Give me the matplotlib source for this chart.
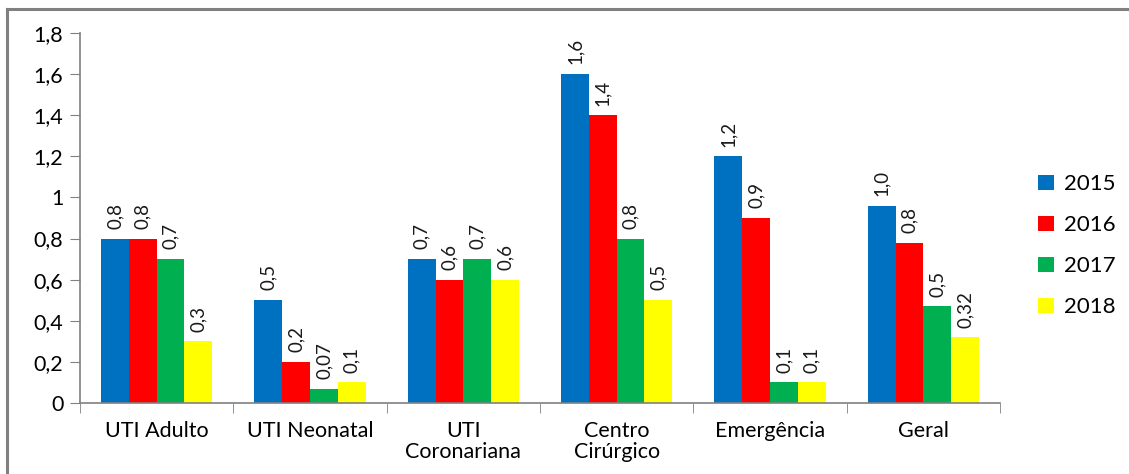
import numpy as np
import matplotlib
matplotlib.use("Agg")
import matplotlib.pyplot as plt
from matplotlib.lines import Line2D

categories = ["UTI Adulto", "UTI Neonatal", "UTI\nCoronariana", "Centro\nCirúrgico",
              "Emergência", "Geral"]
years = ["2015", "2016", "2017", "2018"]
v2015 = [0.8, 0.5, 0.7, 1.6, 1.2, 0.96]
v2016 = [0.8, 0.2, 0.6, 1.4, 0.9, 0.78]
v2017 = [0.7, 0.07, 0.7, 0.8, 0.1, 0.47]
v2018 = [0.3, 0.1, 0.6, 0.5, 0.1, 0.32]
lab2015 = ["0,8", "0,5", "0,7", "1,6", "1,2", "1,0"]
lab2016 = ["0,8", "0,2", "0,6", "1,4", "0,9", "0,8"]
lab2017 = ["0,7", "0,07", "0,7", "0,8", "0,1", "0,5"]
lab2018 = ["0,3", "0,1", "0,6", "0,5", "0,1", "0,32"]
yticks = [0, 0.2, 0.4, 0.6, 0.8, 1.0, 1.2, 1.4, 1.6, 1.8]
ytick_labels = ["0", "0,2", "0,4", "0,6", "0,8", "1", "1,2", "1,4", "1,6", "1,8"]

colors = ["#0070C0", "#FF0000", "#00B050", "#FFFF00"]
series = [v2015, v2016, v2017, v2018]
labels = [lab2015, lab2016, lab2017, lab2018]

plt.rcParams["font.family"] = ["Lato", "DejaVu Sans"]

W, H = 1129, 474
fig = plt.figure(figsize=(W / 100, H / 100), dpi=100)
ax = fig.add_axes([80 / W, 1 - 403 / H, 920 / W, 370 / H])

x = np.arange(len(categories))
bw = 0.181
for k, (vals, labs, c) in enumerate(zip(series, labels, colors)):
    pos = x - 1.5 * bw + k * bw
    ax.bar(pos, vals, width=bw, color=c, label=years[k], zorder=2)
    for p, v, t in zip(pos, vals, labs):
        ax.annotate(t, (p, v), xytext=(0, 7), textcoords="offset points",
                    rotation=90, ha="center", va="bottom", fontsize=13.5, color="#1a1a1a")

ax.set_xlim(-0.5, len(categories) - 0.5)
ax.set_ylim(0, 1.8)
ax.set_yticks(yticks)
ax.set_yticklabels(ytick_labels, fontsize=15.5)
ax.set_xticks(x)
ax.set_xticklabels(categories, fontsize=15.5, linespacing=1.05)
ax.set_xticks(np.arange(len(categories) + 1) - 0.5, minor=True)
ax.tick_params(axis="x", which="major", length=0, pad=13)
ax.tick_params(axis="x", which="minor", length=7, color="#808080", direction="out")
ax.tick_params(axis="y", length=7, color="#808080", direction="out", pad=5)
for s in ["top", "right"]:
    ax.spines[s].set_visible(False)
for s in ["left", "bottom"]:
    ax.spines[s].set_color("#808080")
    ax.spines[s].set_linewidth(1.2)

ax.legend(loc="center left", bbox_to_anchor=(1.02, 0.425), frameon=False,
          fontsize=16, handlelength=0.7, handleheight=0.7, handletextpad=0.45,
          labelspacing=0.95)

# outer chart frame (only top and left edges visible in the crop)
fig.add_artist(Line2D([7 / W, 7 / W], [0, 1 - 9 / H], transform=fig.transFigure,
                      color="#808080", lw=2.2))
fig.add_artist(Line2D([7 / W, 1], [1 - 9 / H, 1 - 9 / H], transform=fig.transFigure,
                      color="#808080", lw=2.2))

fig.savefig("out.png", dpi=100)
